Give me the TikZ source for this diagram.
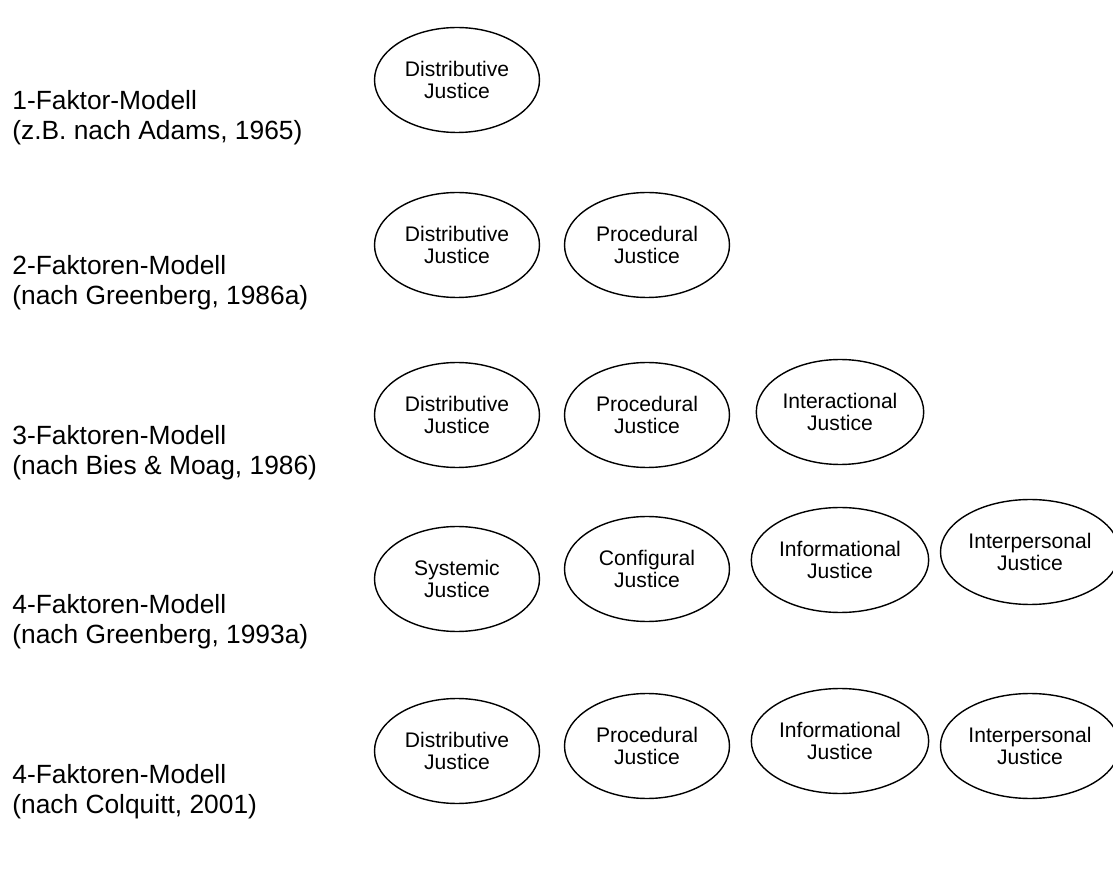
\documentclass[tikz,border=0pt]{standalone}
\usepackage{fontspec}
\setmainfont{Liberation Sans}
\usepackage{tikz}
\usetikzlibrary{shapes.geometric,positioning}

\begin{document}
\begin{tikzpicture}[x=0.02cm,y=-0.02cm,
  model/.style={anchor=west,align=left,inner sep=0pt,font=\fontsize{15}{17}\selectfont},
  factor/.style={draw=black,ellipse,line width=0.8pt,minimum width=3.3cm,minimum height=2.1cm,align=center,inner sep=1pt,font=\fontsize{12}{13}\selectfont}
]
  \useasboundingbox (0,0) rectangle (1113,871);

  % model labels
  \node[model] (m1) at (12,118) {1-Faktor-Modell\\(z.B. nach Adams, 1965)};
  \node[model] (m2) at (12,283) {2-Faktoren-Modell\\(nach Greenberg, 1986a)};
  \node[model] (m3) at (12,453) {3-Faktoren-Modell\\(nach Bies \& Moag, 1986)};
  \node[model] (m4) at (12,622) {4-Faktoren-Modell\\(nach Greenberg, 1993a)};
  \node[model] (m5) at (12,792) {4-Faktoren-Modell\\(nach Colquitt, 2001)};

  % factors
  \node[factor] (dist1) at (457,80) {Distributive\\Justice};

  \foreach \x/\y/\nm/\lab in {457/245/dist2/Distributive,647/245/proc2/Procedural}
    \node[factor] (\nm) at (\x,\y) {\lab\\Justice};

  \foreach \x/\y/\nm/\lab in {457/415/dist3/Distributive,647/415/proc3/Procedural,840/412/inter3/Interactional}
    \node[factor] (\nm) at (\x,\y) {\lab\\Justice};

  \foreach \x/\y/\nm/\lab in {457/579/sys4/Systemic,647/569/conf4/Configural,840/560/info4/Informational,1030/552/pers4/Interpersonal}
    \node[factor] (\nm) at (\x,\y) {\lab\\Justice};

  \foreach \x/\y/\nm/\lab in {457/751/dist5/Distributive,647/746/proc5/Procedural,840/741/info5/Informational,1030/746/pers5/Interpersonal}
    \node[factor] (\nm) at (\x,\y) {\lab\\Justice};
\end{tikzpicture}
\end{document}
